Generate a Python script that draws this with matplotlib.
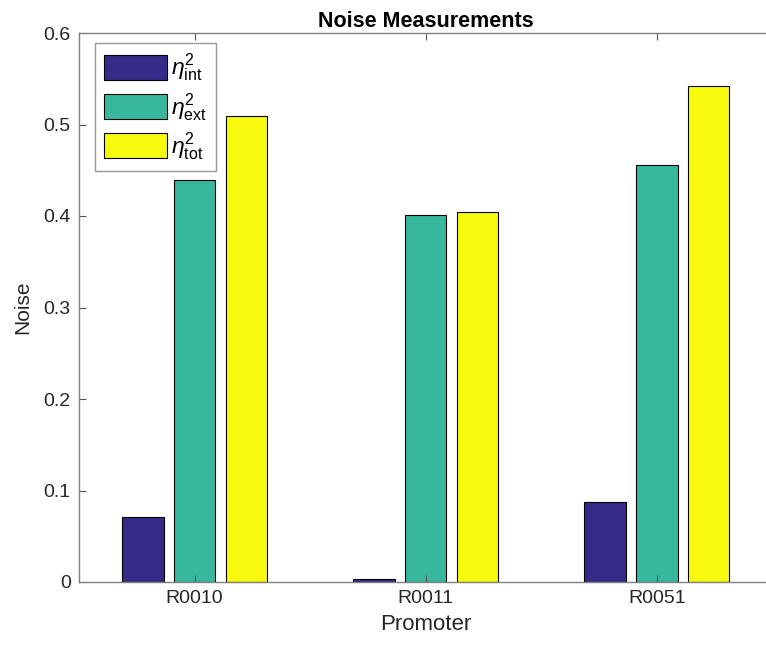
import numpy as np
import matplotlib.pyplot as plt

plt.rcParams['font.family'] = ['Liberation Sans', 'DejaVu Sans']
plt.rcParams['mathtext.fontset'] = 'custom'
plt.rcParams['mathtext.rm'] = 'Liberation Sans'
plt.rcParams['mathtext.it'] = 'Liberation Sans:italic'

promoters = ['R0010', 'R0011', 'R0051']
noise_int = [0.071, 0.0035, 0.087]
noise_ext = [0.439, 0.401, 0.456]
noise_tot = [0.509, 0.404, 0.542]
series_labels = [r'$\eta^2_{\mathrm{int}}$', r'$\eta^2_{\mathrm{ext}}$', r'$\eta^2_{\mathrm{tot}}$']
colors = ['#352a87', '#37b89d', '#f9fb0e']

W, H = 766, 649
fig = plt.figure(figsize=(W / 100, H / 100), dpi=100)
ax = fig.add_axes([79 / W, 1 - 582 / H, (772.5 - 79) / W, (582 - 33) / H])

x = np.arange(1, len(promoters) + 1)
offset = 0.8 / 3 * 0.84
width = offset * 0.8
for i, (vals, lab, col) in enumerate(zip([noise_int, noise_ext, noise_tot], series_labels, colors)):
    ax.bar(x + (i - 1) * offset, vals, width, color=col, edgecolor='black', linewidth=0.8, label=lab)

ax.set_xlim(0.5, 3.5)
ax.set_ylim(0, 0.6)
ax.set_xticks(x)
ax.set_xticklabels(promoters)
ax.set_yticks(np.arange(0, 0.61, 0.1))
ax.set_yticklabels(['0', '0.1', '0.2', '0.3', '0.4', '0.5', '0.6'])
ax.tick_params(direction='in', length=5, width=0.8, color='#555555', labelsize=14,
               labelcolor='#262626', top=True, right=True, pad=6)
for s in ax.spines.values():
    s.set_color('#808080')
    s.set_linewidth(1.0)

ax.set_title('Noise Measurements', fontsize=15.5, fontweight='bold', pad=4)
ax.set_xlabel('Promoter', fontsize=16, color='#262626', labelpad=5)
ax.set_ylabel('Noise', fontsize=15, color='#262626', labelpad=8)

leg = ax.legend(loc='upper left', bbox_to_anchor=(95 / W, 1 - 43 / H), bbox_transform=fig.transFigure,
                borderaxespad=0, fancybox=False, fontsize=16.5, handlelength=2.75, handleheight=1.3,
                labelspacing=0.33, handletextpad=0.2, borderpad=0.38)
leg.get_frame().set_edgecolor('#808080')
leg.get_frame().set_linewidth(1.0)

fig.savefig('out.png', dpi=100)
